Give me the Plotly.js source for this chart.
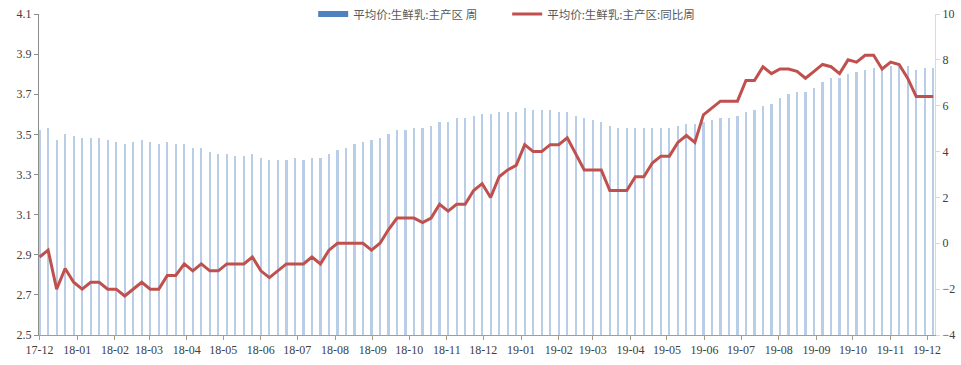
<!DOCTYPE html>
<html>
<head>
<meta charset="utf-8">
<script src="https://cdn.plot.ly/plotly-3.0.1.min.js"></script>
<style>
  html, body { margin: 0; padding: 0; background: #ffffff; }
  #chart { width: 961px; height: 365px; }
</style>
</head>
<body>
<div id="chart"></div>
<script>
// Weekly observation dates
const weeks = [
  "2017-12-01","2017-12-08","2017-12-15","2017-12-22","2017-12-29",
  "2018-01-05","2018-01-12","2018-01-19","2018-01-26",
  "2018-02-02","2018-02-09","2018-02-16","2018-02-23",
  "2018-03-02","2018-03-09","2018-03-16","2018-03-23","2018-03-30",
  "2018-04-06","2018-04-13","2018-04-20","2018-04-27",
  "2018-05-04","2018-05-11","2018-05-18","2018-05-25",
  "2018-06-01","2018-06-08","2018-06-15","2018-06-22","2018-06-29",
  "2018-07-06","2018-07-13","2018-07-20","2018-07-27",
  "2018-08-03","2018-08-10","2018-08-17","2018-08-24","2018-08-31",
  "2018-09-07","2018-09-14","2018-09-21","2018-09-28",
  "2018-10-05","2018-10-12","2018-10-19","2018-10-26",
  "2018-11-02","2018-11-09","2018-11-16","2018-11-23","2018-11-30",
  "2018-12-07","2018-12-14","2018-12-21","2018-12-28",
  "2019-01-04","2019-01-11","2019-01-18","2019-01-25",
  "2019-02-01","2019-02-08","2019-02-15","2019-02-22",
  "2019-03-01","2019-03-08","2019-03-15","2019-03-22","2019-03-29",
  "2019-04-05","2019-04-12","2019-04-19","2019-04-26",
  "2019-05-03","2019-05-10","2019-05-17","2019-05-24","2019-05-31",
  "2019-06-07","2019-06-14","2019-06-21","2019-06-28",
  "2019-07-05","2019-07-12","2019-07-19","2019-07-26",
  "2019-08-02","2019-08-09","2019-08-16","2019-08-23","2019-08-30",
  "2019-09-06","2019-09-13","2019-09-20","2019-09-27",
  "2019-10-04","2019-10-11","2019-10-18","2019-10-25",
  "2019-11-01","2019-11-08","2019-11-15","2019-11-22","2019-11-29",
  "2019-12-06"
];

// 平均价:生鲜乳:主产区 (元/公斤), left axis
const priceValues = [
  3.52,3.53,3.47,3.50,3.49,
  3.48,3.48,3.48,3.47,
  3.46,3.45,3.46,3.47,
  3.46,3.45,3.46,3.45,3.45,
  3.43,3.43,3.41,3.40,
  3.40,3.39,3.39,3.40,
  3.38,3.37,3.37,3.37,3.38,
  3.37,3.38,3.38,3.40,
  3.42,3.43,3.45,3.46,3.47,
  3.48,3.50,3.52,3.52,
  3.53,3.53,3.54,3.56,
  3.56,3.58,3.58,3.59,3.60,
  3.60,3.61,3.61,3.61,
  3.63,3.62,3.62,3.62,
  3.61,3.61,3.59,3.58,
  3.57,3.56,3.54,3.53,3.53,
  3.53,3.53,3.53,3.53,
  3.53,3.54,3.55,3.55,3.56,
  3.57,3.58,3.58,3.59,
  3.61,3.62,3.64,3.65,
  3.68,3.70,3.71,3.71,3.73,
  3.76,3.78,3.78,3.80,
  3.81,3.82,3.83,3.83,
  3.84,3.84,3.84,3.82,3.83,
  3.83
];

// 平均价:生鲜乳:主产区:同比 (%), right axis
const yoyValues = [
  -0.6,-0.3,-2.0,-1.1,-1.7,
  -2.0,-1.7,-1.7,-2.0,
  -2.0,-2.3,-2.0,-1.7,
  -2.0,-2.0,-1.4,-1.4,-0.9,
  -1.2,-0.9,-1.2,-1.2,
  -0.9,-0.9,-0.9,-0.6,
  -1.2,-1.5,-1.2,-0.9,-0.9,
  -0.9,-0.6,-0.9,-0.3,
  0.0,0.0,0.0,0.0,-0.3,
  0.0,0.6,1.1,1.1,
  1.1,0.9,1.1,1.7,
  1.4,1.7,1.7,2.3,2.6,
  2.0,2.9,3.2,3.4,
  4.3,4.0,4.0,4.3,
  4.3,4.6,3.9,3.2,
  3.2,3.2,2.3,2.3,2.3,
  2.9,2.9,3.5,3.8,
  3.8,4.4,4.7,4.4,5.6,
  5.9,6.2,6.2,6.2,
  7.1,7.1,7.7,7.4,
  7.6,7.6,7.5,7.2,7.5,
  7.8,7.7,7.4,8.0,
  7.9,8.2,8.2,7.6,
  7.9,7.8,7.2,6.4,6.4,
  6.4
];

const priceName = "平均价:生鲜乳:主产区 周";
const yoyName = "平均价:生鲜乳:主产区:同比周";

const DAY = 86400000;
const serif = "Liberation Serif, Times New Roman, serif";
const cjk = "Noto Sans CJK SC, sans-serif";

const traces = [
  {
    type: "bar",
    x: weeks,
    y: priceValues,
    name: priceName,
    legendgroup: "price",
    showlegend: false,
    width: 1.8 * DAY,
    marker: { color: "#b9cde6", line: { width: 0 } },
    yaxis: "y",
    hoverinfo: "x+y"
  },
  {
    // legend swatch for the bar series (drawn as a thick bar-like stroke)
    type: "scatter",
    mode: "lines",
    x: [null],
    y: [null],
    name: priceName,
    legendgroup: "price",
    line: { color: "#4f81bd", width: 6 },
    yaxis: "y",
    hoverinfo: "skip"
  },
  {
    type: "scatter",
    mode: "lines",
    x: weeks,
    y: yoyValues,
    name: yoyName,
    line: { color: "#c0504d", width: 3 },
    yaxis: "y2"
  }
];

const layout = {
  width: 961,
  height: 365,
  margin: { l: 39, r: 26, t: 14, b: 30, autoexpand: false },
  paper_bgcolor: "#ffffff",
  plot_bgcolor: "#ffffff",
  showlegend: true,
  legend: {
    orientation: "h",
    x: 0.306,
    xanchor: "left",
    y: 1.0,
    yanchor: "middle",
    bgcolor: "rgba(0,0,0,0)",
    font: { family: cjk, size: 11.5, color: "#595959" },
    itemwidth: 30,
    entrywidth: 149,
    entrywidthmode: "pixels",
    traceorder: "normal"
  },
  xaxis: {
    type: "date",
    range: ["2017-11-30 12:00", "2019-12-07 12:00"],
    tick0: "2017-12-01",
    dtick: "M1",
    tickformat: "%y-%m",
    ticks: "outside",
    ticklen: 4,
    tickcolor: "#a89c84",
    showline: true,
    linecolor: "#a89c84",
    linewidth: 1,
    showgrid: false,
    zeroline: false,
    tickfont: { family: serif, size: 12, color: "#404040" }
  },
  yaxis: {
    range: [2.5, 4.1],
    dtick: 0.2,
    tick0: 2.5,
    tickformat: ".1f",
    ticks: "outside",
    ticklen: 4,
    tickcolor: "#8c8c8c",
    showline: true,
    linecolor: "#8c8c8c",
    linewidth: 1,
    showgrid: false,
    zeroline: false,
    tickfont: { family: serif, size: 12, color: "#404040" }
  },
  yaxis2: {
    range: [-4, 10],
    dtick: 2,
    tick0: -4,
    overlaying: "y",
    side: "right",
    ticks: "outside",
    ticklen: 4,
    tickcolor: "#d9d9d9",
    showline: true,
    linecolor: "#d9d9d9",
    linewidth: 1,
    showgrid: false,
    zeroline: false,
    tickfont: { family: serif, size: 12, color: "#404040" }
  },
  bargap: 0
};

Plotly.newPlot("chart", traces, layout, { displayModeBar: false, staticPlot: true });
</script>
</body>
</html>
